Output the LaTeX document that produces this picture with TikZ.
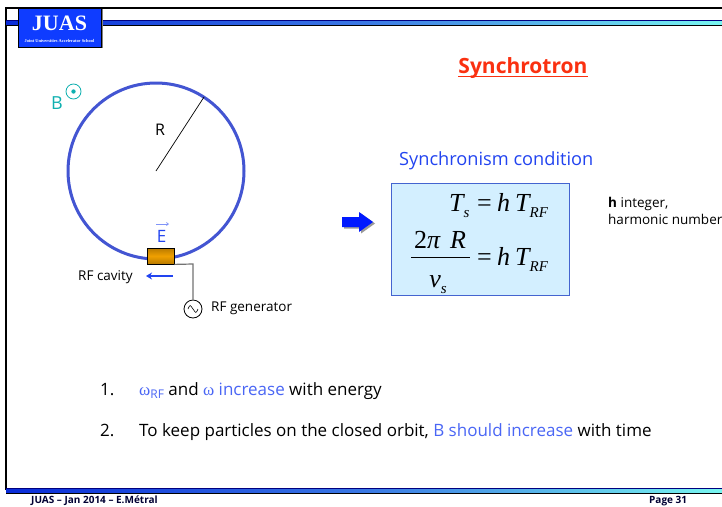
\documentclass[tikz,border=0pt]{standalone}
\usepackage{fontspec}
\setmainfont{Open Sans}
\newfontfamily\serifm{Liberation Serif}
\usetikzlibrary{arrows.meta}
\definecolor{ringc}{HTML}{4355D2}
\definecolor{tealc}{HTML}{0FB0B0}
\definecolor{bluet}{HTML}{2244F0}
\definecolor{lightt}{HTML}{4A66F5}
\definecolor{logoc}{HTML}{0F3CFF}
\definecolor{boxf}{HTML}{D3EFFF}
\definecolor{boxd}{HTML}{4464D0}
\definecolor{redt}{HTML}{FA3010}
\definecolor{bandl}{HTML}{0A2CD8}
\definecolor{bandm}{HTML}{3A78E4}
\definecolor{bandr}{HTML}{78F6F0}
\definecolor{cavl}{HTML}{B87A00}
\definecolor{cavm}{HTML}{F0A000}
\tikzset{
  lbl/.style={inner sep=0pt,font=\fontsize{13.5}{15}\selectfont,text=black},
  eqn/.style={inner sep=0pt,font=\serifm\itshape\fontsize{26}{28}\selectfont},
  listt/.style={inner sep=0pt,anchor=base west,font=\fontsize{17}{19}\selectfont},
  foot/.style={inner sep=0pt,anchor=base west,font=\bfseries\fontsize{10}{11}\selectfont,text=black!80!blue},
  bandfill/.style={left color=bandl,right color=bandr,middle color=bandm},
  cavfill/.style={top color=cavl,bottom color=cavl,middle color=cavm}
}
\newcommand{\eqsub}[1]{\raisebox{-6pt}{\fontsize{15}{15}\selectfont #1}}
\newcommand{\omegac}{{\fontspec{Liberation Serif}ω}}
\begin{document}
\begin{tikzpicture}[x=1pt,y=-1pt]
\useasboundingbox (0,0) rectangle (722,506);
\clip (0,0) rectangle (722,506);
\fill[white] (0,0) rectangle (722,506);
% frame
\draw[black,line width=1.6pt] (6,490) -- (6,8) -- (722,8);
% bands
\shade[bandfill] (6,20) rectangle (722,25);
\draw[black!50!blue,line width=.8pt] (6,20.5) -- (722,20.5);
\draw[black,line width=.7pt] (6,25.3) -- (722,25.3);
\shade[bandfill] (6,488) rectangle (722,493);
\draw[black!50!blue,line width=.8pt] (6,488.4) -- (722,488.4);
\draw[black,line width=.7pt] (6,493) -- (722,493);
% logo
\fill[gray] (17.5,9) rectangle (102.5,48);
\node[draw=black,fill=logoc,line width=.8pt,minimum width=83pt,minimum height=39pt,inner sep=0pt] (logo) at (60,27.5) {};
\node[inner sep=0pt,text=white,font=\serifm\bfseries\fontsize{22}{24}\selectfont] (juas) at (59.5,23) {JUAS};
\node[inner sep=0pt,text=white,font=\serifm\bfseries\fontsize{4.4}{5}\selectfont] (sub) at (59.5,40.5) {Joint Universities Accelerator School};
% ring
\coordinate (cc) at (156,171);
\draw[ringc,line width=3pt] (cc) circle (88);
\coordinate (re) at (204,97);
\draw[black,line width=.7pt] (cc) -- (re);
\node[lbl,font=\fontsize{16}{18}\selectfont] (R) at (160,130) {R};
\node[inner sep=0pt,text=tealc,font=\fontsize{18}{20}\selectfont] (B) at (57,103) {B};
\node[circle,draw=tealc,line width=.8pt,minimum size=15pt,inner sep=0pt] (Bc) at (73.5,91.5) {};
\fill[tealc] (Bc.center) circle (2.2);
% E
\node[inner sep=0pt,text=bluet,font=\fontsize{17}{19}\selectfont] (E) at (161.5,236.5) {E};
\coordinate (ea) at (156,224); \coordinate (eb) at (169,224);
\draw[lightt!70,line width=.7pt,-{Straight Barb[length=2pt,width=3pt]}] (ea) -- (eb);
% cavity
\node[draw=black,line width=.8pt,minimum width=27pt,minimum height=16pt,inner sep=0pt,cavfill] (cav) at (160.5,256) {};
% generator
\node[circle,draw=black,line width=.8pt,minimum size=18pt,inner sep=0pt,fill=white] (gen) at (193,309) {};
\draw[black!55,line width=1.2pt] (cav.south east) -- (193,264) -- (gen.north);
\draw[black,line width=.6pt] ([xshift=-5pt]gen.center) .. controls ++(2.5,-6) and ++(-2.5,-3) .. (gen.center) .. controls ++(2.5,3) and ++(-2.5,6) .. ([xshift=5pt]gen.center);
\node[lbl,anchor=west] (rfc) at (78,277) {RF cavity};
\node[lbl,anchor=west] (rfg) at (211,308) {RF generator};
\coordinate (aa) at (173,276); \coordinate (ab) at (146,276);
\draw[bluet,line width=1.1pt,-{Stealth[length=6pt,width=7pt]}] (aa) -- (ab);
% title
\node[inner sep=0pt,anchor=base,text=redt,font=\bfseries\fontsize{21}{23}\selectfont] (title) at (523,73) {Synchrotron};
\draw[redt,line width=1.2pt] (458,76.5) -- (588,76.5);
\node[inner sep=0pt,text=bluet,anchor=west,font=\fontsize{18.2}{20}\selectfont] (sync) at (399,160.5) {Synchronism condition};
% block arrow
\fill[gray!80] (344,218.5) -- (361,218.5) -- (361,213.5) -- (375,223.5) -- (361,233.5) -- (361,228.5) -- (344,228.5) -- cycle;
\fill[blue!90!cyan] (342,217) -- (359,217) -- (359,212) -- (373,222) -- (359,232) -- (359,227) -- (342,227) -- cycle;
% box
\node[draw=boxd,fill=boxf,line width=1pt,minimum width=178pt,minimum height=112pt,inner sep=0pt] (eqbox) at (480,239) {};
\node[eqn,anchor=base west] (e1a) at (449,211) {T\eqsub{s}};
\node[eqn,anchor=base west,font=\serifm\fontsize{26}{28}\selectfont] (e1b) at (477,211) {=};
\node[eqn,anchor=base west] (e1c) at (497,211) {h};
\node[eqn,anchor=base west] (e1d) at (515,211) {T\eqsub{RF}};
\node[eqn,anchor=base] (num) at (440,248) {{\serifm\upshape 2}π\hspace{10pt}R};
\draw[black,line width=.8pt] (411,257) -- (470,257);
\node[eqn,anchor=base] (den) at (438,287) {v\eqsub{s}};
\node[eqn,anchor=base west,font=\serifm\fontsize{26}{28}\selectfont] (e2b) at (477,265) {=};
\node[eqn,anchor=base west] (e2c) at (497,265) {h};
\node[eqn,anchor=base west] (e2d) at (515,265) {T\eqsub{RF}};
\node[lbl,anchor=base west] (h1) at (608,207) {\textbf{h} integer,};
\node[lbl,anchor=base west] (h2) at (608,224) {harmonic number};
% list
\node[listt] (n1) at (100,395) {1.};
\node[listt] (l1) at (139,395) {\textcolor{lightt}{\omegac\raisebox{-3pt}{\fontsize{12}{12}\selectfont RF}} and \textcolor{lightt}{\omegac\ increase} with energy};
\node[listt] (n2) at (100,436) {2.};
\node[listt] (l2) at (139,436) {To keep particles on the closed orbit, \textcolor{lightt}{B should increase} with time};
% footer
\node[foot] (f1) at (31,503) {JUAS – Jan 2014 – E.Métral};
\node[foot] (f2) at (649,503) {Page 31};
\end{tikzpicture}
\end{document}
